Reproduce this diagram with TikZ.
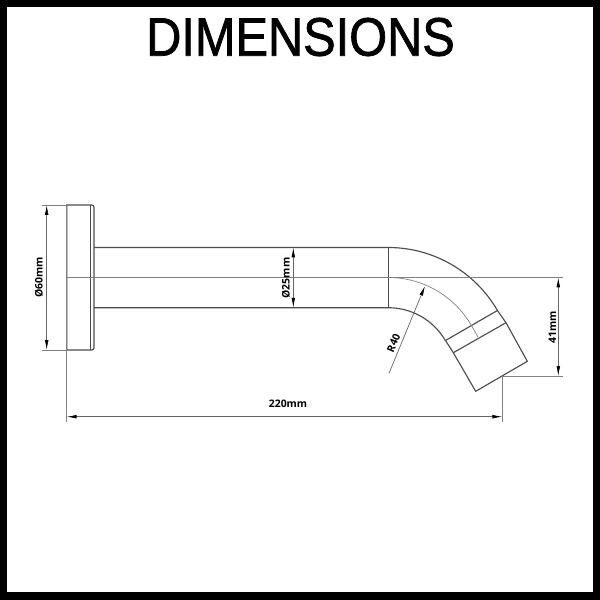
\documentclass[tikz,border=0pt]{standalone}
\usepackage{fontspec}
\setmainfont{Liberation Sans}
\newfontfamily\dimfont{Open Sans}
\newfontfamily\titlefont[FakeBold=1.4]{Liberation Sans}
\usetikzlibrary{arrows.meta}
\tikzset{
  part/.style={draw=black!70,line width=0.8pt},
  thin part/.style={draw=black!50,line width=0.5pt},
  dimline/.style={draw=black!60,line width=0.5pt,{Latex[length=7pt,width=2.6pt,black]}-{Latex[length=7pt,width=2.6pt,black]}},
  extline/.style={draw=black!50,line width=0.5pt},
  dimlabel/.style={font=\dimfont\bfseries\fontsize{7.4}{8}\selectfont,inner sep=1pt},
}
\begin{document}
\begin{tikzpicture}[x=0.025cm,y=-0.025cm]
  \useasboundingbox (0,0) rectangle (600,600);
  \fill[white] (0,0) rectangle (600,600);
  \draw[line width=5.2pt] (3.5,3.5) rectangle (596.5,596);
  \node (title) at (300.5,37) [font=\titlefont\fontsize{38.5}{40}\selectfont,inner sep=0pt,xscale=0.9] {DIMENSIONS};
  % wall plate
  \coordinate (plateNW) at (66.7,205);
  \coordinate (plateSW) at (66.7,350);
  \draw[part] (plateNW) -- (90,205) [rounded corners=1.5pt] -- (94,205) -- (94,350) [sharp corners] -- (90,350) -- (plateSW) -- cycle;
  \draw[part] (90.7,205) -- (90.7,350);
  % pipe
  \coordinate (pipeN) at (388.3,247.5);
  \coordinate (pipeS) at (388.3,307.7);
  \coordinate (outerEnd) at (497.4,310.5);
  \coordinate (innerEnd) at (445.5,340.5);
  \coordinate (ringE) at (506,322.7);
  \coordinate (ringW) at (453.3,352.7);
  \coordinate (headE) at (527.3,361.3);
  \coordinate (headW) at (475.7,391.3);
  \draw[part] (94,247.5) -- (pipeN) arc[start angle=-90,end angle=-30,radius=126];
  \draw[part] (94,307.7) -- (pipeS) arc[start angle=-90,end angle=-30,radius=66];
  \draw[part] (pipeN) -- (pipeS);
  \draw[part] (outerEnd) -- (ringE) -- (headE) -- (headW) -- (ringW) -- (innerEnd) -- cycle;
  \draw[part] (ringW) -- (ringE);
  % centre lines
  \coordinate (axisW) at (66.7,277.5);
  \coordinate (axisE) at (563,277.5);
  \coordinate (axisEnd) at (478,337);
  \draw[extline] (axisW) -- (axisE);
  \draw[thin part] (388.3,277.5) arc[start angle=-90,end angle=-30,radius=96] -- (axisEnd);
  \draw[extline] (plateNW) -- (66.7,360);
  % dimensions
  \coordinate (dimA) at (46.7,205);
  \coordinate (dimB) at (46.7,350);
  \draw[extline] (42,205) -- (plateNW);
  \draw[extline] (42,350) -- (plateSW);
  \draw[dimline] (dimA) -- (dimB);
  \node[dimlabel,rotate=90] (plateLabel) at (39,277.5) {Ø60mm};
  \coordinate (dimC) at (293.3,247.5);
  \coordinate (dimD) at (293.3,307.7);
  \draw[dimline] (dimC) -- (dimD);
  \node[dimlabel,rotate=90] (pipeLabel) at (286,278) {Ø25mm};
  \coordinate (dimE) at (558.3,277.5);
  \coordinate (dimF) at (558.3,376);
  \coordinate (dropTop) at (502.3,376);
  \draw[extline] (dropTop) -- (563,376);
  \draw[dimline] (dimE) -- (dimF);
  \node[dimlabel,rotate=90] (dropLabel) at (552.5,327) {41mm};
  \coordinate (dimG) at (66.7,416.7);
  \coordinate (dimH) at (502.3,416.7);
  \draw[extline] (plateSW) -- (66.7,421.7);
  \draw[extline] (dropTop) -- (502.3,421.7);
  \draw[dimline] (dimG) -- (dimH);
  \node[dimlabel] (lengthLabel) at (288,404) {220mm};
  \coordinate (bendCentre) at (389,373.3);
  \coordinate (bendTip) at (425,286);
  \draw[draw=black!60,line width=0.5pt,-{Latex[length=7pt,width=2.6pt,black]}] (bendCentre) -- (bendTip);
  \node[dimlabel,rotate=67] (bendLabel) at (393.5,343) {R40};
\end{tikzpicture}
\end{document}
